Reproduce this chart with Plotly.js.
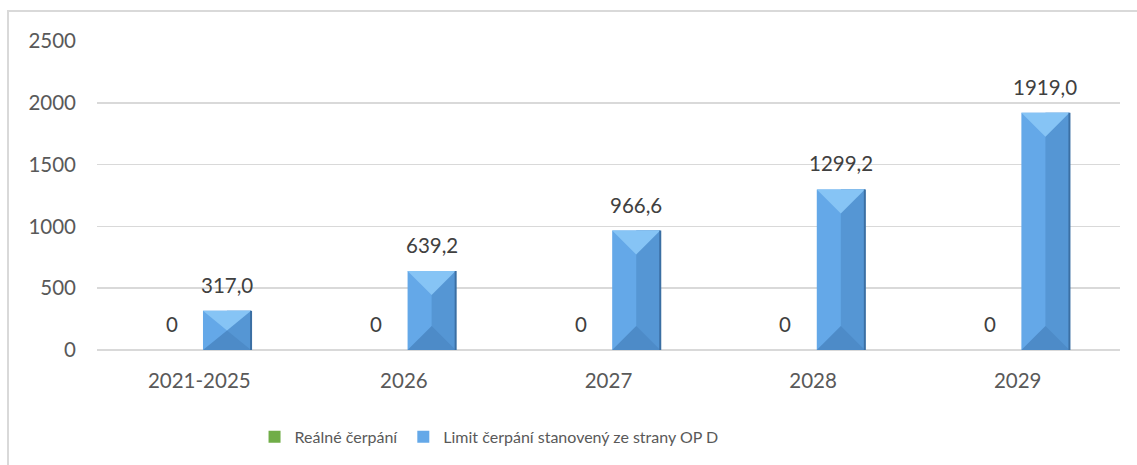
<!DOCTYPE html>
<html>
<head>
<meta charset="utf-8">
<script src="https://cdn.plot.ly/plotly-3.0.1.min.js"></script>
<style>
html, body { margin: 0; padding: 0; background: #fff; overflow: hidden; }
#frame { position: absolute; left: 7px; top: 10px; width: 1300px; height: 600px;
  border-left: 2px solid #d9d9d9; border-top: 2px solid #d9d9d9; }
#chart { position: absolute; left: 0; top: 0; width: 1137px; height: 465px; }
</style>
</head>
<body>
<div id="frame"></div>
<div id="chart"></div>
<script>
const categories = ['2021-2025', '2026', '2027', '2028', '2029'];
const realne = [0, 0, 0, 0, 0];
const limit = [317.0, 639.2, 966.6, 1299.2, 1919.0];
const seriesNames = ['Reálné čerpání', 'Limit čerpání stanovený ze strany OP D'];

// geometry of the plot, used to size the bevel in data units
const W = 1137, H = 465;
const margin = { l: 97, r: 17, t: 41, b: 114 };
const yMax = 2500;
const pxPerUnit = (H - margin.t - margin.b) / yMax;
const pxPerCat = (W - margin.l - margin.r) / categories.length;

const barW = 0.235;
const offGreen = -0.253;
const offBlue = 0.018;

const xs = categories.map((c, i) => i);

const fmt = v => v === 0 ? '0' : v.toFixed(1).replace('.', ',');

const data = [
  {
    type: 'bar',
    name: seriesNames[0],
    x: xs,
    y: realne,
    offset: offGreen,
    width: barW,
    marker: { color: '#70AD47', line: { width: 0 } },
    hoverinfo: 'skip'
  },
  {
    type: 'bar',
    name: seriesNames[1],
    x: xs,
    y: limit,
    offset: offBlue,
    width: barW,
    marker: { color: '#64A8E8', line: { width: 0 } },
    hoverinfo: 'skip'
  }
];

// bevel look of the blue bars
const shapes = [];
limit.forEach((v, i) => {
  const L = i + offBlue, R = L + barW, M = L + barW / 2;
  const halfPx = barW * pxPerCat / 2;
  const dPx = Math.min(halfPx, v * pxPerUnit / 2);
  const d = dPx / pxPerUnit;
  shapes.push({ type: 'rect', xref: 'x', yref: 'y', x0: M, x1: R, y0: 0, y1: v,
    fillcolor: '#5596D4', line: { width: 0 }, layer: 'above' });
  shapes.push({ type: 'path', xref: 'x', yref: 'y',
    path: `M ${L},${v} L ${R},${v} L ${M},${v - d} Z`,
    fillcolor: '#86C4F5', line: { width: 0 }, layer: 'above' });
  shapes.push({ type: 'path', xref: 'x', yref: 'y',
    path: `M ${L},0 L ${R},0 L ${M},${d} Z`,
    fillcolor: '#4D8BC8', line: { width: 0 }, layer: 'above' });
  shapes.push({ type: 'line', xref: 'x', yref: 'y', x0: R, x1: R, y0: 0, y1: v,
    line: { color: '#3B6FA3', width: 2 }, layer: 'above' });
});

const annotations = [];
realne.forEach((v, i) => {
  annotations.push({ x: i + offGreen + barW / 2, y: v, xref: 'x', yref: 'y',
    text: fmt(v), showarrow: false, yanchor: 'middle', yshift: 26,
    font: { family: 'Lato, sans-serif', size: 20.5, color: '#404040' } });
});
limit.forEach((v, i) => {
  annotations.push({ x: i + offBlue + barW / 2, y: v, xref: 'x', yref: 'y',
    text: fmt(v), showarrow: false, yanchor: 'middle', yshift: 26,
    font: { family: 'Lato, sans-serif', size: 20.5, color: '#404040' } });
});

const layout = {
  width: W,
  height: H,
  margin: margin,
  paper_bgcolor: 'rgba(0,0,0,0)',
  plot_bgcolor: 'rgba(0,0,0,0)',
  font: { family: 'Lato, sans-serif', color: '#595959' },
  showlegend: true,
  legend: {
    orientation: 'h',
    x: 0.154, xanchor: 'left',
    y: -0.277, yanchor: 'middle',
    bgcolor: 'rgba(0,0,0,0)',
    font: { size: 16, color: '#595959' },
    itemwidth: 30
  },
  xaxis: {
    type: 'linear',
    range: [-0.5, categories.length - 0.5],
    tickvals: xs,
    ticktext: categories,
    showgrid: false,
    zeroline: false,
    showline: false,
    ticks: '',
    ticklabelstandoff: 16,
    tickfont: { size: 20.5, color: '#595959' },
    fixedrange: true
  },
  yaxis: {
    range: [0, yMax],
    dtick: 500,
    showgrid: true,
    gridcolor: '#d9d9d9',
    gridwidth: 1.5,
    zeroline: true,
    zerolinecolor: '#d9d9d9',
    zerolinewidth: 1.5,
    showline: false,
    ticks: '',
    ticklabelstandoff: 20,
    tickfont: { size: 20.5, color: '#595959' },
    fixedrange: true
  },
  shapes: shapes,
  annotations: annotations
};

Plotly.newPlot('chart', data, layout, { displayModeBar: false, staticPlot: true });
</script>
</body>
</html>
